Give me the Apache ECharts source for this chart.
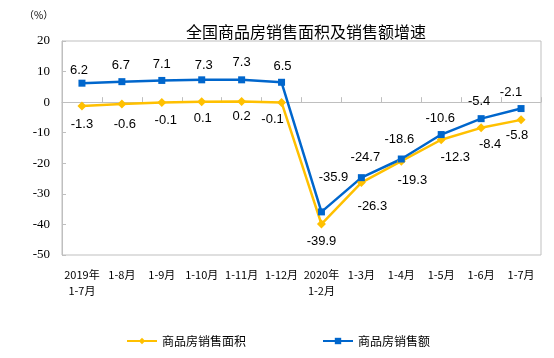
<!DOCTYPE html>
<html>
<head>
<meta charset="utf-8">
<script src="https://cdn.jsdelivr.net/npm/echarts@6/dist/echarts.min.js"></script>
<style>
html,body{margin:0;padding:0;background:#fff;}
#chart{width:554px;height:358px;}
</style>
</head>
<body>
<div id="chart"></div>
<script>
var categories = ['2019年\n1-7月','1-8月','1-9月','1-10月','1-11月','1-12月','2020年\n1-2月','1-3月','1-4月','1-5月','1-6月','1-7月'];
var areaGrowth = [-1.3, -0.6, -0.1, 0.1, 0.2, -0.1, -39.9, -26.3, -19.3, -12.3, -8.4, -5.8];
var salesGrowth = [6.2, 6.7, 7.1, 7.3, 7.3, 6.5, -35.9, -24.7, -18.6, -10.6, -5.4, -2.1];
var yTicks = {min: -50, max: 20, interval: 10};
var seriesNames = ['商品房销售面积', '商品房销售额'];

// label offsets (style only)
var areaLabelOffsets = [[0,18],[3,20],[4,18],[1,17],[0,15],[-9,17],[0,17],[11,24],[11,19],[14,18],[9,17],[-4,16]];
var salesLabelOffsets = [[-3,-13],[-1,-16],[0,-16],[2,-14],[0,-17],[1,-16],[12,-34],[4,-20],[-2,-20],[-1,-16],[-2,-17],[-10,-16]];

function build(vals, offs){
  return vals.map(function(v,i){
    return {value: v, label: {offset: offs[i]}};
  });
}

var chart = echarts.init(document.getElementById('chart'));
chart.setOption({
  animation: false,
  backgroundColor: '#fff',
  title: {
    text: '全国商品房销售面积及销售额增速',
    left: 301, textAlign: 'center', top: 19,
    textStyle: {fontSize: 16, fontWeight: 'normal', color: '#000', fontFamily: 'Noto Sans CJK SC'}
  },
  graphic: [{
    type: 'text', left: 24, top: 10,
    style: {text: '（%）', fontSize: 10, fill: '#000', fontFamily: 'Noto Sans CJK SC'}
  }],
  legend: {
    data: seriesNames,
    left: 121, top: 330,
    itemWidth: 30, itemHeight: 8, itemGap: 76,
    textStyle: {fontSize: 12, color: '#000', fontFamily: 'Noto Sans CJK SC'}
  },
  grid: {
    left: 62, right: 13, top: 41, bottom: 103,
    show: true, borderColor: '#BFBFBF', borderWidth: 1
  },
  xAxis: {
    type: 'category',
    data: categories,
    boundaryGap: true,
    axisLine: {lineStyle: {color: '#BFBFBF', width: 1}},
    axisTick: {show: true, inside: true, length: 5, lineStyle: {color: '#BFBFBF'}},
    axisLabel: {interval: 0, fontSize: 11, margin: 12, lineHeight: 16, color: '#000', fontFamily: 'Noto Sans CJK SC'}
  },
  yAxis: {
    type: 'value',
    min: yTicks.min, max: yTicks.max, interval: yTicks.interval,
    axisLine: {show: true, lineStyle: {color: '#BFBFBF', width: 1}},
    axisTick: {show: true, inside: true, length: 4, lineStyle: {color: '#BFBFBF'}},
    splitLine: {show: false},
    axisLabel: {fontSize: 13, margin: 12, color: '#000', fontFamily: 'Liberation Serif'}
  },
  series: [{
    name: seriesNames[0],
    type: 'line',
    data: build(areaGrowth, areaLabelOffsets),
    symbol: 'diamond', symbolSize: 9,
    lineStyle: {color: '#FFC000', width: 2.5},
    itemStyle: {color: '#FFC000'},
    label: {show: true, position: 'inside', fontSize: 13, color: '#000', fontFamily: 'Liberation Sans',
      formatter: function(p){ return p.value.toFixed(1); }}
  }, {
    name: seriesNames[1],
    type: 'line',
    data: build(salesGrowth, salesLabelOffsets),
    symbol: 'rect', symbolSize: 7,
    lineStyle: {color: '#0066CC', width: 2.5},
    itemStyle: {color: '#0066CC'},
    label: {show: true, position: 'inside', fontSize: 13, color: '#000', fontFamily: 'Liberation Sans',
      formatter: function(p){ return p.value.toFixed(1); }}
  }]
});
</script>
</body>
</html>
